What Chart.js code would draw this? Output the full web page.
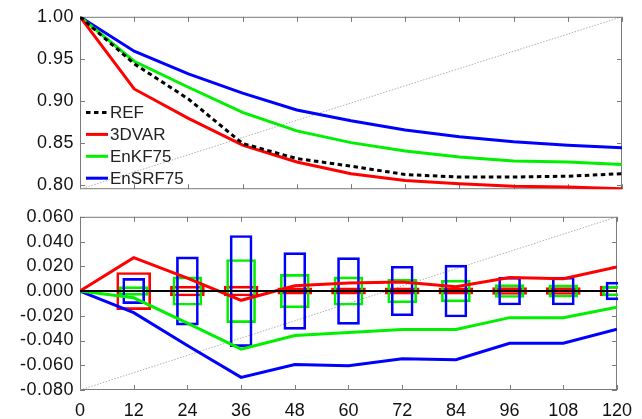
<!DOCTYPE html>
<html>
<head>
<meta charset="utf-8">
<script src="https://cdn.jsdelivr.net/npm/chart.js@4.4.1/dist/chart.umd.min.js"></script>
<style>
  html, body { margin: 0; padding: 0; background: #fff; }
  #lienzo { position: relative; width: 642px; height: 419px; overflow: hidden; }
  canvas { position: absolute; left: 0; }
  #arriba { top: 0; }
  #abajo { top: 200px; }
</style>
</head>
<body>
<div id="lienzo">
  <canvas id="arriba" width="642" height="206"></canvas>
  <canvas id="abajo" width="642" height="219"></canvas>
</div>
<script>
// === DATOS ===
const horas = [0, 12, 24, 36, 48, 60, 72, 84, 96, 108, 120];
const horasCaja = [12, 24, 36, 48, 60, 72, 84, 96, 108, 120];

// panel superior (correlación)
const corrREF    = [1.000, 0.944, 0.902, 0.849, 0.831, 0.822, 0.812, 0.809, 0.809, 0.810, 0.813];
const corr3DVAR  = [1.000, 0.914, 0.879, 0.847, 0.827, 0.813, 0.805, 0.801, 0.798, 0.797, 0.795];
const corrEnKF   = [1.000, 0.947, 0.916, 0.886, 0.864, 0.850, 0.840, 0.833, 0.828, 0.827, 0.824];
const corrEnSRF  = [1.000, 0.959, 0.932, 0.909, 0.889, 0.876, 0.865, 0.857, 0.851, 0.847, 0.844];
const ticksArriba = [0.80, 0.85, 0.90, 0.95, 1.00];
const etiquetasArriba = ['0.80', '0.85', '0.90', '0.95', '1.00'];

// panel inferior (diferencias)
const difREF    = [0, 0, 0, 0, 0, 0, 0, 0, 0, 0, 0];
const dif3DVAR  = [0, 0.027, 0.0105, -0.0075, 0.0042, 0.0065, 0.0073, 0.0034, 0.011, 0.010, 0.0195];
const difEnKF   = [0, -0.0055, -0.026, -0.047, -0.036, -0.0335, -0.031, -0.031, -0.0215, -0.0215, -0.013];
const difEnSRF  = [0, -0.0175, -0.044, -0.0698, -0.0594, -0.0604, -0.0547, -0.0555, -0.0422, -0.0422, -0.0308];

// semiamplitud de las cajas
const disp3DVAR = [0.015, 0.004, 0.004, 0.0025, 0.0025, 0.0025, 0.0025, 0.0028, 0.0028, 0.004];
const dispEnKF  = [0.0035, 0.0115, 0.0255, 0.0135, 0.0115, 0.0095, 0.0088, 0.0052, 0.005, 0.004];
const dispEnSRF = [0.0102, 0.0276, 0.0449, 0.031, 0.027, 0.020, 0.021, 0.0113, 0.0113, 0.0072];

const ticksAbajo = [-0.08, -0.06, -0.04, -0.02, 0, 0.02, 0.04, 0.06];
const etiquetasAbajo = ['-0.080', '-0.060', '-0.040', '-0.020', '0.000', '0.020', '0.040', '0.060'];

// línea diagonal punteada de referencia
const diagX = [0, 120];
const diagY = [0, 1];

// === UTILIDADES ===
Chart.defaults.font.family = '"Liberation Sans", Arial, Helvetica, sans-serif';
Chart.defaults.color = '#111';

const puntos = (xs, ys) => xs.map((x, i) => ({ x, y: ys[i] }));
const cajas = (xs, ds) => xs.map((x, i) => ({ x, y: [-ds[i], ds[i]] }));

function linea(label, datos, color, extra) {
  return Object.assign({
    label, data: puntos(horas, datos), borderColor: color, backgroundColor: color,
    borderWidth: 3, pointRadius: 0, tension: 0, fill: false
  }, extra || {});
}

function diagonal() {
  return {
    data: puntos(diagX, diagY), yAxisID: 'yd', borderColor: '#b0b0b0',
    borderWidth: 1, borderDash: [1.5, 1.5], pointRadius: 0, fill: false
  };
}

function caja(datos, color, ancho) {
  return {
    type: 'bar', data: cajas(horasCaja, datos), borderColor: color,
    backgroundColor: 'rgba(0,0,0,0)', borderWidth: 2, borderSkipped: false,
    barThickness: ancho, grouped: false, clip: 1
  };
}

// === PLUGINS ===
const espaciado = {
  id: 'espaciado',
  beforeDraw(chart) { chart.ctx.letterSpacing = '0.5px'; },
  beforeDatasetsDraw(chart) { chart.ctx.letterSpacing = '0px'; }
};

const marco = {
  id: 'marco',
  beforeDatasetsDraw(chart) {
    const { ctx, chartArea: a, scales } = chart;
    ctx.save();
    ctx.strokeStyle = '#7a7a7a';
    ctx.lineWidth = 1;
    ctx.strokeRect(a.left + 0.5, a.top + 0.5, a.width - 1, a.height - 1);
    ctx.beginPath();
    scales.x.ticks.forEach(t => {
      const px = Math.round(scales.x.getPixelForValue(t.value)) + 0.5;
      ctx.moveTo(px, a.top); ctx.lineTo(px, a.top + 5);
      ctx.moveTo(px, a.bottom); ctx.lineTo(px, a.bottom - 5);
    });
    scales.y.ticks.forEach(t => {
      const py = Math.round(scales.y.getPixelForValue(t.value)) + 0.5;
      ctx.moveTo(a.left, py); ctx.lineTo(a.left + 5, py);
      ctx.moveTo(a.right, py); ctx.lineTo(a.right - 5, py);
    });
    ctx.stroke();
    ctx.restore();
  }
};

const leyenda = {
  id: 'leyenda',
  afterDatasetsDraw(chart) {
    const { ctx, chartArea: a } = chart;
    const items = chart.data.datasets.filter(d => d.label);
    ctx.save();
    ctx.font = '17px "Liberation Sans", Arial, sans-serif';
    ctx.textBaseline = 'middle';
    items.forEach((d, i) => {
      const y = a.bottom - 11 - (items.length - 1 - i) * 21.9;
      ctx.beginPath();
      ctx.strokeStyle = d.borderColor;
      ctx.lineWidth = 3;
      ctx.setLineDash(d.borderDash || []);
      ctx.moveTo(a.left + 6, y);
      ctx.lineTo(a.left + 28, y);
      ctx.stroke();
      ctx.setLineDash([]);
      ctx.fillStyle = '#222';
      ctx.fillText(d.label, a.left + 30, y + 1);
    });
    ctx.restore();
  }
};

function ejeX(conEtiquetas, alto) {
  return {
    type: 'linear', min: 0, max: 120, offset: false,
    grid: { display: false, drawTicks: false, offset: false },
    border: { display: false },
    ticks: {
      display: conEtiquetas, padding: 10, z: 1, autoSkip: false, maxRotation: 0,
      font: { size: 18 }, callback: (v, i) => String(horas[i])
    },
    afterBuildTicks: s => { s.ticks = horas.map(v => ({ value: v })); },
    afterFit: s => { s.height = alto; }
  };
}

function ejeY(min, max, valores, etiquetas) {
  return {
    min, max,
    grid: { display: false, drawTicks: false },
    border: { display: false },
    ticks: { padding: 6, font: { size: 18 }, callback: (v, i) => etiquetas[i] },
    afterBuildTicks: s => { s.ticks = valores.map(v => ({ value: v })); },
    afterFit: s => { s.width = 80; }
  };
}

// === PANEL SUPERIOR ===
new Chart(document.getElementById('arriba'), {
  type: 'line',
  data: {
    datasets: [
      linea('REF', corrREF, '#000000', { borderDash: [4.5, 3.5] }),
      linea('3DVAR', corr3DVAR, '#ff0000'),
      linea('EnKF75', corrEnKF, '#00f000'),
      linea('EnSRF75', corrEnSRF, '#0000ff'),
      diagonal()
    ]
  },
  options: {
    responsive: false, animation: false, devicePixelRatio: 1,
    layout: { padding: { left: 0, right: 20, top: 16, bottom: 12 } },
    plugins: { legend: { display: false }, tooltip: { enabled: false } },
    scales: {
      x: ejeX(false, 0),
      y: ejeY(0.7945, 1.0, ticksArriba, etiquetasArriba),
      yd: { display: false, min: 0, max: 1 }
    }
  },
  plugins: [espaciado, marco, leyenda]
});

// === PANEL INFERIOR ===
new Chart(document.getElementById('abajo'), {
  type: 'line',
  data: {
    datasets: [
      linea('', difREF, '#000000', { borderWidth: 2 }),
      linea('', dif3DVAR, '#ff0000'),
      linea('', difEnKF, '#00f000'),
      linea('', difEnSRF, '#0000ff'),
      caja(dispEnSRF, '#0000ff', 22),
      caja(dispEnKF, '#00f000', 29),
      caja(disp3DVAR, '#ff0000', 34),
      diagonal()
    ]
  },
  options: {
    responsive: false, animation: false, devicePixelRatio: 1,
    layout: { padding: { left: 0, right: 20, top: 12, bottom: 0 } },
    plugins: { legend: { display: false }, tooltip: { enabled: false } },
    scales: {
      x: ejeX(true, 29),
      y: ejeY(-0.08, 0.06, ticksAbajo, etiquetasAbajo),
      yd: { display: false, min: 0, max: 1 }
    }
  },
  plugins: [espaciado, marco]
});
</script>
</body>
</html>
